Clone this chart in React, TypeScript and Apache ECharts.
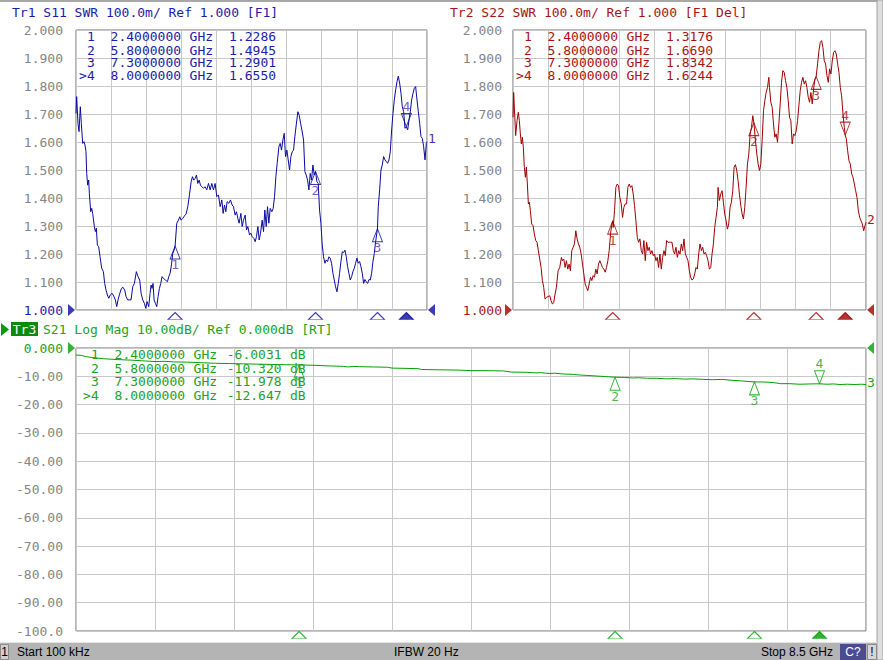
import React, { useEffect, useRef } from "react";
import * as echarts from "echarts";

const START_GHZ = 0;
const STOP_GHZ = 8.5;
const MARKER_FREQ = [2.4, 5.8, 7.3, 8.0];
const ACTIVE_MARKER = 3;
const S11_MARKERS = [1.2286, 1.4945, 1.2901, 1.655];
const S22_MARKERS = [1.3176, 1.669, 1.8342, 1.6244];
const S21_MARKERS = [-6.0031, -10.32, -11.978, -12.647];
const SWR_LABELS = ["1.000", "1.100", "1.200", "1.300", "1.400", "1.500", "1.600", "1.700", "1.800", "1.900", "2.000"];
const DB_LABELS = ["-100.0", "-90.00", "-80.00", "-70.00", "-60.00", "-50.00", "-40.00", "-30.00", "-20.00", "-10.00", "0.000"];
const HEADER1 = "Tr1 S11 SWR 100.0m/ Ref 1.000 [F1]";
const HEADER2 = "Tr2 S22 SWR 100.0m/ Ref 1.000 [F1 Del]";
const HEADER3 = "S21 Log Mag 10.00dB/ Ref 0.000dB [RT]";
const STATUS = ["Start 100 kHz", "IFBW 20 Hz", "Stop 8.5 GHz"];

const S11_TRACE: number[][] = [
  [0.000,1.702],[0.016,1.762],[0.048,1.667],[0.073,1.637],[0.105,1.726],[0.129,1.667],[0.162,1.595],[0.194,1.601],[0.218,1.589],[0.242,1.565],
  [0.259,1.488],[0.283,1.446],[0.307,1.464],[0.323,1.417],[0.356,1.351],[0.380,1.363],[0.404,1.345],[0.444,1.298],[0.469,1.280],[0.493,1.292],
  [0.517,1.232],[0.549,1.226],[0.582,1.190],[0.622,1.149],[0.663,1.137],[0.695,1.095],[0.727,1.071],[0.760,1.054],[0.792,1.042],[0.832,1.054],
  [0.873,1.060],[0.913,1.050],[0.953,1.036],[0.986,1.012],[1.018,1.036],[1.050,1.054],[1.099,1.077],[1.139,1.081],[1.180,1.071],[1.212,1.048],
  [1.252,1.036],[1.293,1.036],[1.333,1.036],[1.374,1.083],[1.414,1.095],[1.462,1.137],[1.503,1.119],[1.543,1.107],[1.576,1.060],[1.616,1.036],
  [1.656,1.024],[1.689,1.006],[1.721,1.030],[1.761,1.012],[1.794,1.060],[1.818,1.089],[1.842,1.077],[1.866,1.095],[1.891,1.036],[1.923,1.024],
  [1.955,1.012],[1.988,1.048],[2.020,1.077],[2.052,1.095],[2.085,1.119],[2.117,1.113],[2.165,1.107],[2.214,1.101],[2.246,1.119],[2.279,1.131],
  [2.311,1.161],[2.343,1.202],[2.376,1.214],[2.400,1.229],[2.440,1.310],[2.481,1.321],[2.513,1.333],[2.545,1.321],[2.586,1.327],[2.626,1.336],
  [2.666,1.343],[2.707,1.369],[2.747,1.411],[2.788,1.458],[2.820,1.476],[2.852,1.464],[2.885,1.470],[2.917,1.482],[2.949,1.452],[2.982,1.464],
  [3.014,1.446],[3.046,1.440],[3.087,1.435],[3.127,1.440],[3.167,1.429],[3.208,1.452],[3.248,1.429],[3.289,1.452],[3.329,1.429],[3.369,1.452],
  [3.410,1.405],[3.450,1.411],[3.491,1.369],[3.531,1.393],[3.563,1.345],[3.596,1.375],[3.628,1.351],[3.660,1.387],[3.701,1.381],[3.741,1.393],
  [3.781,1.375],[3.814,1.369],[3.854,1.339],[3.886,1.351],[3.919,1.327],[3.951,1.310],[3.992,1.345],[4.024,1.298],[4.056,1.321],[4.097,1.339],
  [4.129,1.286],[4.161,1.298],[4.202,1.268],[4.234,1.274],[4.266,1.262],[4.307,1.256],[4.339,1.244],[4.371,1.262],[4.404,1.298],[4.436,1.250],
  [4.468,1.274],[4.509,1.321],[4.541,1.280],[4.573,1.357],[4.606,1.298],[4.638,1.369],[4.670,1.310],[4.703,1.363],[4.743,1.351],[4.775,1.363],
  [4.808,1.405],[4.840,1.476],[4.872,1.524],[4.913,1.583],[4.945,1.595],[4.977,1.571],[5.010,1.607],[5.042,1.631],[5.074,1.548],[5.107,1.571],
  [5.139,1.536],[5.171,1.500],[5.204,1.548],[5.236,1.565],[5.268,1.571],[5.300,1.619],[5.333,1.661],[5.373,1.708],[5.405,1.696],[5.438,1.667],
  [5.470,1.643],[5.511,1.607],[5.543,1.494],[5.575,1.482],[5.608,1.464],[5.640,1.429],[5.672,1.488],[5.704,1.464],[5.737,1.518],[5.769,1.482],
  [5.800,1.4945],[5.834,1.458],[5.866,1.452],[5.898,1.357],[5.931,1.310],[5.963,1.232],[5.995,1.190],[6.028,1.167],[6.060,1.179],[6.092,1.173],
  [6.125,1.190],[6.157,1.185],[6.189,1.167],[6.222,1.131],[6.254,1.107],[6.286,1.083],[6.319,1.065],[6.351,1.095],[6.383,1.131],[6.416,1.173],
  [6.448,1.208],[6.480,1.205],[6.512,1.214],[6.545,1.190],[6.577,1.155],[6.609,1.131],[6.642,1.107],[6.674,1.119],[6.706,1.137],[6.739,1.149],
  [6.771,1.167],[6.803,1.185],[6.836,1.167],[6.868,1.173],[6.900,1.155],[6.933,1.131],[6.965,1.095],[6.997,1.109],[7.030,1.101],[7.062,1.095],
  [7.094,1.109],[7.127,1.107],[7.159,1.131],[7.191,1.173],[7.224,1.202],[7.256,1.244],[7.300,1.290],[7.320,1.369],[7.353,1.429],[7.385,1.500],
  [7.417,1.518],[7.450,1.548],[7.482,1.536],[7.514,1.530],[7.547,1.524],[7.579,1.536],[7.611,1.565],[7.644,1.643],[7.676,1.702],[7.708,1.750],
  [7.741,1.786],[7.773,1.815],[7.805,1.835],[7.838,1.810],[7.870,1.774],[7.902,1.726],[7.935,1.708],[7.967,1.649],[8.000,1.655],[8.032,1.643],
  [8.064,1.679],[8.096,1.708],[8.128,1.750],[8.161,1.774],[8.193,1.792],[8.225,1.798],[8.258,1.750],[8.290,1.708],[8.322,1.667],[8.355,1.619],
  [8.387,1.613],[8.419,1.583],[8.452,1.536],[8.484,1.595],[8.500,1.601]
];

const S22_TRACE: number[][] = [
  [0.000,1.688],[0.016,1.777],[0.040,1.700],[0.064,1.623],[0.097,1.676],[0.129,1.706],[0.153,1.676],[0.177,1.629],[0.201,1.593],[0.225,1.617],
  [0.249,1.581],[0.273,1.510],[0.298,1.474],[0.322,1.510],[0.346,1.450],[0.370,1.379],[0.394,1.385],[0.418,1.355],[0.450,1.307],[0.483,1.301],
  [0.515,1.271],[0.547,1.248],[0.579,1.242],[0.611,1.212],[0.643,1.182],[0.676,1.152],[0.708,1.105],[0.740,1.081],[0.772,1.039],[0.804,1.045],
  [0.844,1.048],[0.885,1.051],[0.917,1.033],[0.949,1.021],[0.981,1.027],[1.013,1.057],[1.045,1.081],[1.086,1.140],[1.126,1.152],[1.166,1.188],
  [1.190,1.176],[1.222,1.182],[1.255,1.152],[1.287,1.176],[1.319,1.146],[1.351,1.164],[1.383,1.140],[1.415,1.212],[1.448,1.224],[1.480,1.236],
  [1.512,1.283],[1.544,1.254],[1.576,1.236],[1.608,1.224],[1.641,1.200],[1.673,1.164],[1.705,1.129],[1.737,1.093],[1.769,1.081],[1.801,1.069],
  [1.834,1.093],[1.866,1.117],[1.898,1.105],[1.930,1.123],[1.962,1.117],[1.994,1.146],[2.027,1.129],[2.059,1.164],[2.091,1.176],[2.123,1.164],
  [2.155,1.152],[2.187,1.146],[2.220,1.135],[2.252,1.152],[2.284,1.176],[2.316,1.212],[2.348,1.271],[2.380,1.307],[2.400,1.3176],[2.413,1.295],
  [2.445,1.355],[2.477,1.438],[2.509,1.450],[2.541,1.444],[2.573,1.402],[2.606,1.379],[2.638,1.331],[2.670,1.367],[2.702,1.379],[2.734,1.379],
  [2.766,1.438],[2.799,1.450],[2.831,1.438],[2.863,1.444],[2.895,1.414],[2.927,1.373],[2.959,1.319],[2.992,1.260],[3.024,1.242],[3.056,1.254],
  [3.088,1.212],[3.120,1.200],[3.152,1.248],[3.185,1.176],[3.217,1.242],[3.249,1.212],[3.281,1.224],[3.313,1.200],[3.345,1.212],[3.378,1.194],
  [3.410,1.200],[3.442,1.176],[3.474,1.188],[3.506,1.152],[3.538,1.200],[3.571,1.146],[3.603,1.188],[3.635,1.212],[3.667,1.194],[3.699,1.248],
  [3.731,1.242],[3.764,1.242],[3.796,1.242],[3.828,1.242],[3.860,1.212],[3.892,1.200],[3.924,1.224],[3.957,1.188],[3.989,1.212],[4.021,1.200],
  [4.053,1.236],[4.085,1.212],[4.117,1.254],[4.150,1.200],[4.182,1.188],[4.214,1.176],[4.246,1.140],[4.278,1.117],[4.310,1.107],[4.343,1.111],
  [4.375,1.129],[4.407,1.152],[4.439,1.146],[4.471,1.200],[4.503,1.236],[4.536,1.212],[4.568,1.224],[4.600,1.200],[4.632,1.206],[4.664,1.194],
  [4.696,1.176],[4.729,1.146],[4.761,1.152],[4.793,1.200],[4.825,1.236],[4.857,1.295],[4.889,1.331],[4.922,1.367],[4.938,1.438],[4.970,1.391],
  [5.002,1.414],[5.034,1.426],[5.066,1.385],[5.099,1.343],[5.131,1.319],[5.163,1.289],[5.195,1.307],[5.227,1.367],[5.259,1.385],[5.292,1.426],
  [5.324,1.510],[5.356,1.519],[5.388,1.498],[5.420,1.462],[5.452,1.414],[5.485,1.373],[5.517,1.343],[5.549,1.325],[5.581,1.367],[5.613,1.438],
  [5.645,1.521],[5.678,1.557],[5.710,1.629],[5.742,1.652],[5.774,1.694],[5.800,1.669],[5.838,1.605],[5.871,1.557],[5.903,1.521],[5.935,1.498],
  [5.967,1.521],[5.999,1.605],[6.032,1.712],[6.064,1.748],[6.096,1.777],[6.128,1.795],[6.160,1.831],[6.176,1.795],[6.208,1.742],[6.241,1.724],
  [6.273,1.664],[6.305,1.617],[6.337,1.629],[6.369,1.599],[6.401,1.664],[6.434,1.736],[6.466,1.813],[6.498,1.855],[6.530,1.849],[6.562,1.819],
  [6.594,1.795],[6.627,1.748],[6.659,1.688],[6.691,1.676],[6.723,1.593],[6.755,1.629],[6.787,1.623],[6.820,1.640],[6.852,1.676],[6.884,1.730],
  [6.916,1.783],[6.948,1.813],[6.980,1.831],[7.013,1.807],[7.045,1.819],[7.077,1.795],[7.109,1.760],[7.141,1.742],[7.173,1.777],[7.206,1.736],
  [7.238,1.789],[7.270,1.825],[7.300,1.8342],[7.334,1.879],[7.367,1.926],[7.399,1.956],[7.431,1.962],[7.463,1.938],[7.495,1.890],[7.527,1.879],
  [7.560,1.837],[7.592,1.813],[7.624,1.861],[7.656,1.843],[7.688,1.890],[7.720,1.920],[7.753,1.926],[7.785,1.914],[7.817,1.879],[7.849,1.849],
  [7.881,1.795],[7.913,1.765],[7.946,1.700],[7.978,1.652],[8.000,1.6244],[8.026,1.611],[8.058,1.569],[8.090,1.533],[8.122,1.521],[8.155,1.486],
  [8.187,1.474],[8.219,1.450],[8.251,1.426],[8.283,1.402],[8.315,1.355],[8.348,1.331],[8.380,1.319],[8.412,1.307],[8.444,1.283],[8.476,1.301],
  [8.500,1.313]
];

const S21_TRACE: number[][] = [
  [0.000,-2.5],[0.06,-2.6],[0.10,-3.0],[0.18,-3.4],[0.30,-3.8],[0.45,-4.1],[0.60,-4.3],[0.75,-4.6],[0.85,-4.8],[0.95,-4.7],
  [1.05,-4.9],[1.20,-5.0],[1.35,-5.2],[1.50,-5.4],[1.65,-5.5],[1.80,-5.6],[1.95,-5.7],[2.10,-5.8],[2.25,-5.9],[2.40,-6.0031],
  [2.55,-6.1],[2.70,-6.3],[2.80,-6.4],[2.88,-6.5],[2.93,-6.7],[2.98,-6.5],[3.05,-6.6],[3.20,-6.7],[3.35,-6.8],[3.40,-7.1],
  [3.55,-7.2],[3.68,-7.3],[3.72,-7.6],[3.90,-7.7],[4.10,-7.8],[4.25,-8.0],[4.40,-8.0],[4.60,-8.1],[4.68,-8.5],[4.85,-8.6],
  [4.95,-8.8],[5.00,-8.7],[5.05,-8.9],[5.10,-9.0],[5.15,-8.9],[5.25,-9.2],[5.35,-9.3],[5.40,-9.5],[5.50,-9.7],[5.60,-9.9],
  [5.70,-10.1],[5.80,-10.32],[5.90,-10.4],[6.00,-10.6],[6.05,-10.5],[6.15,-10.7],[6.25,-10.7],[6.35,-10.9],[6.45,-10.8],[6.55,-11.0],
  [6.65,-10.9],[6.75,-11.1],[6.85,-11.2],[6.95,-11.1],[7.05,-11.4],[7.15,-11.6],[7.22,-11.8],[7.30,-11.978],[7.40,-12.0],[7.50,-12.2],
  [7.58,-12.6],[7.68,-12.6],[7.78,-12.8],[7.90,-12.7],[8.00,-12.647],[8.08,-12.8],[8.15,-12.7],[8.22,-12.9],[8.30,-12.8],[8.38,-12.9],
  [8.45,-12.8],[8.50,-12.9]
];

const MONO = '"DejaVu Sans Mono", "Liberation Mono", monospace';
const SANS = '"Liberation Sans", Arial, sans-serif';
const C1 = "#0a0aa0";
const C1T = "#1c1ca8";
const C1M = "#5632b4";
const C2 = "#a00000";
const C2T = "#a81414";
const C3 = "#00a000";
const C3T = "#22a222";
const GRIDC = "#c8c8c8";
const BORDERC = "#6a6a6a";
const AXT = "#858585";

const UP = "path://M5,0L10,13L0,13Z";
const DOWN = "path://M0,0L10,0L5,13Z";
const STIM = "path://M7,0L14,7L0,7Z";
const REF_R = "path://M0,0L7,6L0,12Z";
const REF_L = "path://M7,0L0,6L7,12Z";

function xAxis(gridIndex: number) {
  return {
    type: "value", gridIndex, min: START_GHZ, max: STOP_GHZ, interval: 0.85,
    axisLine: { show: false }, axisTick: { show: false }, axisLabel: { show: false },
    splitLine: { show: true, lineStyle: { color: GRIDC, width: 1 } },
  };
}

function yAxis(gridIndex: number, min: number, max: number, interval: number, labels: string[], refIdx: number, refColor: string, margin: number) {
  return {
    type: "value", gridIndex, min, max, interval,
    axisLine: { show: false }, axisTick: { show: false },
    splitLine: { show: true, lineStyle: { color: GRIDC, width: 1 } },
    axisLabel: {
      show: true, showMinLabel: true, showMaxLabel: true, margin,
      color: AXT, fontFamily: MONO, fontSize: 13,
      formatter: (v: number) => {
        const i = Math.round((v - min) / interval);
        const t = labels[i] ?? "";
        return i === refIdx ? "{r|" + t + "}" : t;
      },
      rich: { r: { color: refColor, fontFamily: MONO, fontSize: 13 } },
    },
  };
}

function plotSeries(ax: number, trace: number[][], markers: number[], color: string, lblColor: string,
  endText: string, endOffset: number[], ymin: number, refVal: number, stimOffset: number) {
  const base = { xAxisIndex: ax, yAxisIndex: ax, silent: true };
  return [
    {
      ...base, type: "line", data: trace, showSymbol: false, symbol: "none", z: 3,
      lineStyle: { color, width: 1 },
      endLabel: { show: true, formatter: endText, color: lblColor, fontFamily: MONO, fontSize: 13, distance: 1, offset: endOffset },
    },
    {
      ...base, type: "scatter", clip: false, z: 6, symbolSize: [10, 13],
      itemStyle: { color: "rgba(255,255,255,0)", borderColor: color, borderWidth: 1 },
      data: markers.map((v, i) => ({
        value: [MARKER_FREQ[i], v],
        symbol: i === ACTIVE_MARKER ? DOWN : UP,
        symbolOffset: [0, i === ACTIVE_MARKER ? -6.5 : 6.5],
      })),
    },
    {
      ...base, type: "scatter", clip: false, z: 7, symbol: "circle", symbolSize: 1,
      itemStyle: { color: "rgba(255,255,255,0)" },
      label: { show: true, position: "inside", formatter: "{b}", color: lblColor, fontFamily: MONO, fontSize: 13 },
      data: markers.map((v, i) => ({
        name: String(i + 1),
        value: [MARKER_FREQ[i], v],
        label: { offset: [0, i === ACTIVE_MARKER ? -20 : 19] },
      })),
    },
    {
      ...base, type: "scatter", clip: false, z: 6, symbol: STIM, symbolSize: [14, 7], symbolOffset: [0, stimOffset],
      data: MARKER_FREQ.map((f, i) => ({
        value: [f, ymin],
        itemStyle: i === ACTIVE_MARKER
          ? { color, borderColor: color, borderWidth: 1 }
          : { color: "rgba(255,255,255,0)", borderColor: color, borderWidth: 1 },
      })),
    },
    {
      ...base, type: "scatter", clip: false, z: 6, symbolSize: [7, 12],
      itemStyle: { color },
      data: [
        { value: [START_GHZ, refVal], symbol: REF_R, symbolOffset: [-4.5, 0] },
        { value: [STOP_GHZ, refVal], symbol: REF_L, symbolOffset: [4.5, 0] },
      ],
    },
  ];
}

function txt(text: string, x: number, y: number, fill: string, font = MONO, size = 13, align = "left", lineHeight?: number) {
  const style: any = { text, fill, fontFamily: font, fontSize: size, align, verticalAlign: "middle" };
  if (lineHeight) style.lineHeight = lineHeight;
  return { type: "text", x, y, silent: true, z: 10, style };
}

function table(x0: number, rows: number[], color: string, values: string[], unit: string | null, valCol: number) {
  const cw = 7.9;
  const lh = 11;
  const out: any[] = [];
  MARKER_FREQ.forEach((f, i) => {
    const y = rows[i];
    if (i === ACTIVE_MARKER) out.push(txt(">", x0, y, color, MONO, 13, "left", lh));
    out.push(txt(String(i + 1), x0 + cw, y, color, MONO, 13, "left", lh));
    out.push(txt(f.toFixed(7), x0 + 4 * cw, y, color, MONO, 13, "left", lh));
    out.push(txt("GHz", x0 + 14 * cw, y, color, MONO, 13, "left", lh));
    out.push(txt(values[i], x0 + valCol * cw, y, color, MONO, 13, "left", lh));
    if (unit) out.push(txt(unit, x0 + 26.2 * cw, y, color, MONO, 13, "left", lh));
  });
  return out;
}

export default function App() {
  const ref = useRef<HTMLDivElement>(null);
  useEffect(() => {
    if (!ref.current) return;
    const chart = echarts.init(ref.current, null, { renderer: "svg", width: 883, height: 660 });
    const rowsTop = [36.5, 50, 62.5, 75.5];
    const rowsBot = [354.5, 368, 381.5, 395];
    const graphics: any[] = [
      { type: "rect", silent: true, shape: { x: 0, y: 0, width: 883, height: 2 }, style: { fill: "#a8a8a8" } },
      { type: "rect", silent: true, shape: { x: 877, y: 0, width: 6, height: 660 }, style: { fill: "#dedede", stroke: "#a0a0a0", lineWidth: 1 } },
      txt(HEADER1, 12, 12, C1T),
      txt(HEADER2, 450, 12, C2T),
      { type: "polygon", silent: true, shape: { points: [[1, 323], [9, 329.5], [1, 336]] }, style: { fill: "#0a9a0a" } },
      { type: "rect", silent: true, shape: { x: 11, y: 322, width: 27, height: 14 }, style: { fill: "#0a8c0a" } },
      txt("Tr3", 24.5, 329.5, "#ffffff", MONO, 13, "center"),
      txt(HEADER3, 43, 329.5, C3T),
      ...table(79, rowsTop, C1T, S11_MARKERS.map((v) => v.toFixed(4)), null, 19),
      ...table(516, rowsTop, C2T, S22_MARKERS.map((v) => v.toFixed(4)), null, 19),
      ...table(83, rowsBot, C3T, S21_MARKERS.map((v) => v.toPrecision(5)), "dB", 18.2),
      { type: "rect", silent: true, shape: { x: 0, y: 643, width: 877, height: 17 }, style: { fill: "#b4b4b4" } },
      { type: "rect", silent: true, shape: { x: 0, y: 642, width: 877, height: 1 }, style: { fill: "#e4e4e4" } },
      { type: "rect", silent: true, shape: { x: 0.5, y: 644.5, width: 8, height: 15 }, style: { fill: "#cfcfcf", stroke: "#8a8a8a", lineWidth: 1 } },
      txt("1", 4.5, 652, "#000", SANS, 12, "center"),
      txt(STATUS[0], 17, 652, "#000", SANS, 12),
      txt(STATUS[1], 394, 652, "#000", SANS, 12),
      txt(STATUS[2], 761, 652, "#000", SANS, 12),
      { type: "rect", silent: true, shape: { x: 840, y: 644, width: 26, height: 16 }, style: { fill: "#4b4b8f" } },
      txt("C?", 853, 652, "#ffffff", SANS, 12, "center"),
      { type: "rect", silent: true, shape: { x: 867.5, y: 644.5, width: 9, height: 15 }, style: { fill: "#d6d6d6", stroke: "#8a8a8a", lineWidth: 1 } },
      txt("!", 872, 652, "#000", SANS, 12, "center"),
    ];

    const option: any = {
      animation: false,
      backgroundColor: "#ffffff",
      grid: [
        { left: 76, top: 30, width: 351, height: 280, show: true, borderColor: BORDERC, borderWidth: 1 },
        { left: 513, top: 30, width: 353, height: 280, show: true, borderColor: BORDERC, borderWidth: 1 },
        { left: 76, top: 348, width: 790, height: 283, show: true, borderColor: BORDERC, borderWidth: 1 },
      ],
      xAxis: [xAxis(0), xAxis(1), xAxis(2)],
      yAxis: [
        yAxis(0, 1, 2, 0.1, SWR_LABELS, 0, C1T, 13),
        yAxis(1, 1, 2, 0.1, SWR_LABELS, 0, C2T, 11),
        yAxis(2, -100, 0, 10, DB_LABELS, 10, C3T, 13),
      ],
      series: [
        ...plotSeries(0, S11_TRACE, S11_MARKERS, C1, C1M, "1", [0, -3], 1, 1, 6),
        ...plotSeries(1, S22_TRACE, S22_MARKERS, C2, C2T, "2", [0, -3], 1, 1, 6),
        ...plotSeries(2, S21_TRACE, S21_MARKERS, C3, C3T, "3", [0, -2], -100, 0, 4),
      ],
      graphic: graphics,
    };
    chart.setOption(option);
    return () => chart.dispose();
  }, []);
  return <div ref={ref} style={{ position: "fixed", left: 0, top: 0, width: 883, height: 660, background: "#fff" }} />;
}
